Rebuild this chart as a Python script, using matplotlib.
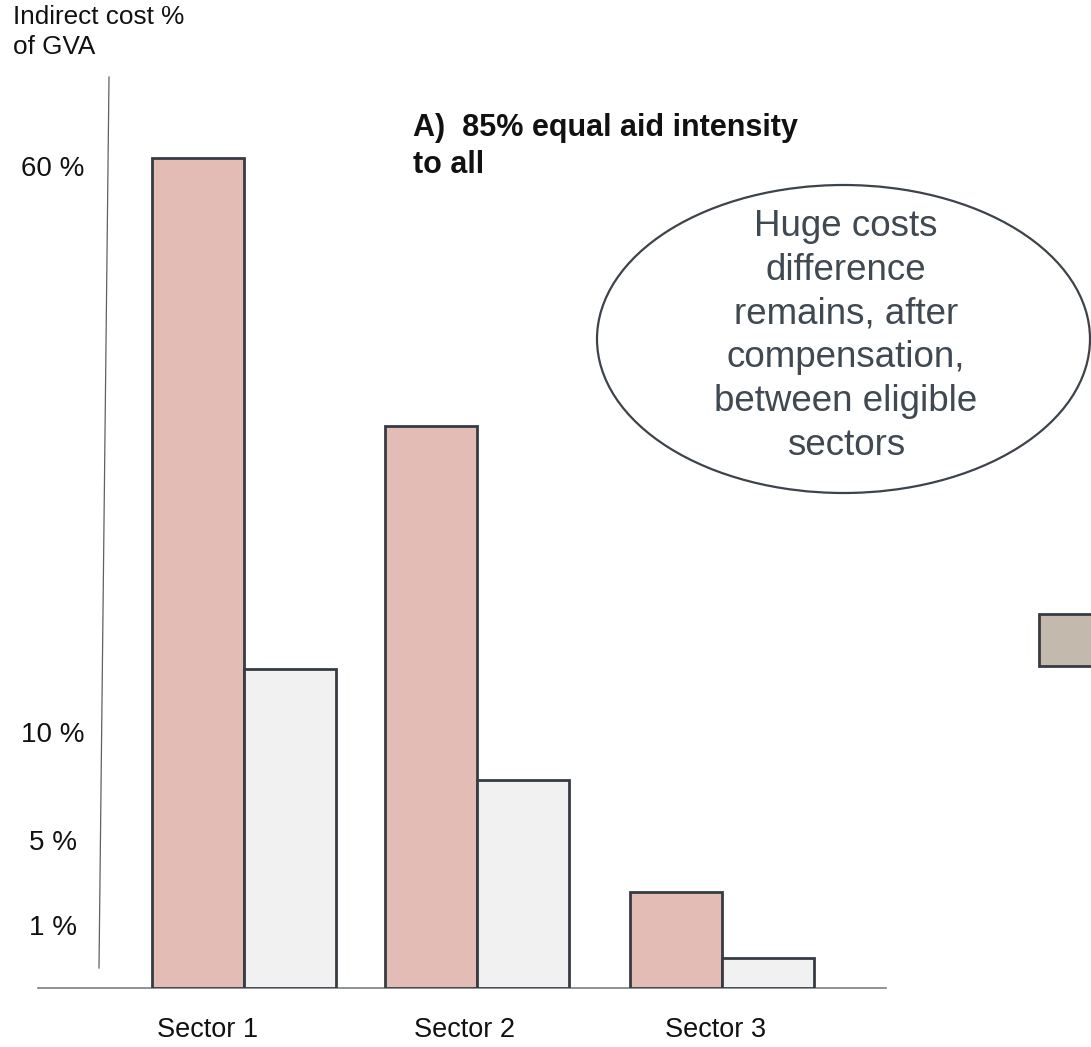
import numpy as np
import matplotlib
matplotlib.use("Agg")
import matplotlib.pyplot as plt
from matplotlib.patches import Ellipse, Rectangle

plt.rcParams["font.family"] = ["Liberation Sans", "DejaVu Sans"]

# ---- data -------------------------------------------------------------
sectors = ["Sector 1", "Sector 2", "Sector 3"]
indirect_cost = [61.0, 37.3, 2.7]        # before compensation (% of GVA)
after_compensation = [15.8, 7.9, 0.5]    # remaining after 85% aid (% of GVA)

tick_values = [1, 5, 10, 60]
tick_labels = ["1 %", "5 %", "10 %", "60 %"]

# ---- non-linear value axis (piecewise linear between labelled levels) --
SCALE_VALUES = np.array([0.0, 1.0, 5.0, 10.0, 60.0, 120.0])
SCALE_HEIGHT = np.array([0.0, 60.0, 145.0, 253.0, 819.0, 819.0 + 60 * 11.32])


def forward(v):
    return np.interp(v, SCALE_VALUES, SCALE_HEIGHT)


def inverse(h):
    return np.interp(h, SCALE_HEIGHT, SCALE_VALUES)


# ---- figure -----------------------------------------------------------
W, H = 1091, 1047
fig = plt.figure(figsize=(W / 100, H / 100), dpi=100)

ax_left, ax_right = 38, 886
ax_bottom, ax_top = 988, 68
ax = fig.add_axes([ax_left / W, 1 - ax_bottom / H,
                   (ax_right - ax_left) / W, (ax_bottom - ax_top) / H])
ax.set_yscale("function", functions=(forward, inverse))
ax.set_ylim(0, inverse(ax_bottom - ax_top))

group_x = np.array([0.0, 0.975, 2.0])
px_per_unit = 239.0
x0 = -(244 - ax_left) / px_per_unit
ax.set_xlim(x0, x0 + (ax_right - ax_left) / px_per_unit)
bw = 92 / px_per_unit

edge = "#363c42"
ax.bar(group_x - bw / 2, indirect_cost, width=bw, color="#e2bcb5",
       edgecolor=edge, linewidth=2.0, zorder=3)
ax.bar(group_x + bw / 2, after_compensation, width=bw, color="#f1f1f1",
       edgecolor=edge, linewidth=2.0, zorder=3)

for s in ["top", "right", "left"]:
    ax.spines[s].set_visible(False)
ax.spines["bottom"].set_color("#7b8086")
ax.spines["bottom"].set_linewidth(1.2)
ax.set_xticks([])
ax.set_yticks([])
ax.patch.set_alpha(0)

# slanted value-axis line
ax.plot([(109 - ax_left) / (ax_right - ax_left), (99 - ax_left) / (ax_right - ax_left)],
        [(ax_bottom - 77) / (ax_bottom - ax_top), (ax_bottom - 968) / (ax_bottom - ax_top)],
        transform=ax.transAxes, color="#5c6167", linewidth=0.9, clip_on=False)

# value labels
ylab_x = (53 - ax_left) / (ax_right - ax_left)
for v, lab in zip(tick_values, tick_labels):
    ax.text(ylab_x, v, lab, transform=ax.get_yaxis_transform(), ha="center",
            va="center", fontsize=20, color="#111111")

# sector labels
label_px = [208, 465, 716]
for px, lab in zip(label_px, sectors):
    ax.text(x0 + (px - ax_left) / px_per_unit, -(1030 - ax_bottom) / (ax_bottom - ax_top),
            lab, transform=ax.get_xaxis_transform(), ha="center", va="center",
            fontsize=19.5, color="#111111")

# ---- annotation layer in pixel coordinates ---------------------------
ov = fig.add_axes([0, 0, 1, 1])
ov.set_xlim(0, W)
ov.set_ylim(H, 0)
ov.axis("off")
ov.patch.set_alpha(0)

ov.text(13, 5, "Indirect cost %\nof GVA", ha="left", va="top", fontsize=18.8,
        color="#111111", linespacing=1.32)
ov.text(413, 113, "A)  85% equal aid intensity\nto all", ha="left", va="top",
        fontsize=22, fontweight="bold", color="#111111", linespacing=1.3)

ov.add_patch(Ellipse((843.5, 339), 493, 308, facecolor="white",
                     edgecolor="#3d434a", linewidth=1.6))
ov.text(846, 336, "Huge costs\ndifference\nremains, after\ncompensation,\nbetween eligible\nsectors",
        ha="center", va="center", fontsize=26.5, color="#404952", linespacing=1.33)

ov.add_patch(Rectangle((1039, 614), 70, 52, facecolor="#c4b9ad",
                       edgecolor="#363c42", linewidth=2.0))

fig.savefig("out.png", dpi=100)
